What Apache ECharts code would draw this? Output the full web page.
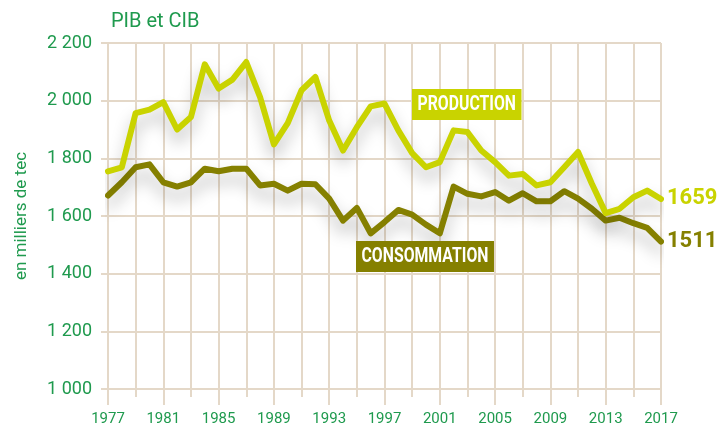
<!DOCTYPE html>
<html>
<head>
<meta charset="utf-8">
<script src="https://cdn.jsdelivr.net/npm/echarts@6/dist/echarts.min.js"></script>
<style>
  html, body { margin: 0; padding: 0; background: #fff; }
  #chart { width: 724px; height: 430px; }
</style>
</head>
<body>
<div id="chart"></div>
<script>
const years = []
for (let y = 1977; y <= 2017; y++) years.push(y)

const production = [
  1755, 1769, 1957, 1969, 1995, 1900, 1943, 2126, 2042, 2073,
  2134, 2012, 1848, 1922, 2036, 2082, 1931, 1827, 1908, 1980,
  1990, 1897, 1818, 1769, 1787, 1897, 1891, 1827, 1787, 1740,
  1746, 1706, 1717, 1769, 1822, 1712, 1610, 1625, 1665, 1688,
  1659,
]

const consommation = [
  1671, 1717, 1769, 1779, 1717, 1702, 1717, 1764, 1755, 1764,
  1764, 1706, 1712, 1688, 1712, 1710, 1660, 1584, 1628, 1540,
  1579, 1621, 1605, 1570, 1540, 1702, 1677, 1668, 1683, 1653,
  1679, 1651, 1651, 1686, 1660, 1625, 1584, 1594, 1575, 1559,
  1511,
]

const green = '#1f9a4e'
const gridColor = '#e4d8c8'
const prodColor = '#c9d300'
const consColor = '#858000'

function pairs(values) {
  return values.map((v, i) => [years[i], v])
}

function fmtThousands(v) {
  return String(v).replace(/\B(?=(\d{3})+(?!\d))/g, ' ')
}

function lineSeries(name, values, color) {
  return {
    type: 'line',
    name,
    data: pairs(values),
    symbol: 'none',
    lineStyle: {
      color,
      width: 6,
      join: 'round',
      cap: 'round',
      shadowColor: 'rgba(0, 0, 0, 0.28)',
      shadowBlur: 16,
      shadowOffsetY: 10,
    },
    endLabel: {
      show: true,
      formatter: (p) => String(p.value[1]),
      color,
      fontFamily: 'Roboto',
      fontWeight: 'bold',
      fontSize: 22,
      distance: 6,
    },
    z: name === 'PRODUCTION' ? 3 : 2,
  }
}

// white condensed caption in a coloured box
function caption(text, left, top, color) {
  return {
    type: 'text',
    left,
    top,
    z: 10,
    scaleX: 0.79,
    style: {
      text,
      fill: '#fff',
      fontFamily: 'Roboto',
      fontWeight: 'bold',
      fontSize: 20,
      backgroundColor: color,
      padding: [6, 7, 5, 7],
    },
  }
}

const chart = echarts.init(document.getElementById('chart'), null, { renderer: 'canvas' })

chart.setOption({
  animation: false,
  grid: { left: 108, right: 63, top: 43, bottom: 41 },
  title: {
    text: 'PIB et CIB',
    left: 106,
    top: 7,
    textStyle: { color: green, fontFamily: 'Roboto', fontWeight: 'normal', fontSize: 20 },
  },
  xAxis: {
    type: 'value',
    min: 1977,
    max: 2017,
    interval: 4,
    axisLine: { show: true, lineStyle: { color: gridColor, width: 2 } },
    axisTick: { show: true, length: 16, lineStyle: { color: gridColor, width: 2 } },
    minorTick: { show: true, splitNumber: 2, length: 8, lineStyle: { color: gridColor, width: 2 } },
    splitLine: { show: true, lineStyle: { color: gridColor, width: 2 } },
    minorSplitLine: { show: true, lineStyle: { color: gridColor, width: 2 } },
    axisLabel: {
      color: green,
      fontFamily: 'Roboto',
      fontSize: 15,
      margin: 23,
      formatter: (v) => String(v),
    },
  },
  yAxis: {
    type: 'value',
    min: 1000,
    max: 2200,
    interval: 200,
    name: 'en milliers de tec',
    nameLocation: 'middle',
    nameGap: 78,
    nameTextStyle: { color: green, fontFamily: 'Roboto', fontSize: 17 },
    axisLine: { show: true, lineStyle: { color: gridColor, width: 2 } },
    axisTick: { show: true, length: 7, lineStyle: { color: gridColor, width: 2 } },
    splitLine: { show: true, lineStyle: { color: gridColor, width: 2 } },
    axisLabel: {
      color: green,
      fontFamily: 'Roboto',
      fontSize: 18,
      margin: 16,
      formatter: fmtThousands,
    },
  },
  graphic: [
    caption('PRODUCTION', 412, 89, prodColor),
    caption('CONSOMMATION', 356, 241, consColor),
  ],
  series: [
    lineSeries('CONSOMMATION', consommation, consColor),
    lineSeries('PRODUCTION', production, prodColor),
  ],
})
</script>
</body>
</html>
